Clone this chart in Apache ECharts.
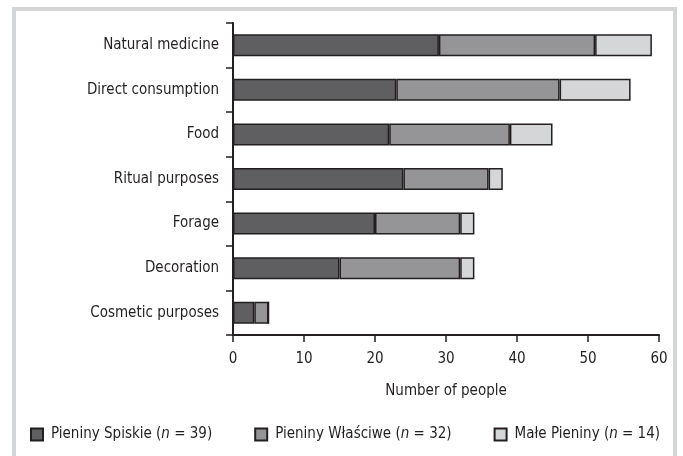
<!DOCTYPE html>
<html>
<head>
<meta charset="utf-8">
<script src="https://cdn.jsdelivr.net/npm/echarts@6/dist/echarts.min.js"></script>
<style>
  html, body { margin: 0; padding: 0; background: #fff; }
  #container { width: 683px; height: 456px; }
  #frame {
    position: absolute; left: 12px; top: 7px; width: 657px; height: 460px;
    border: 4px solid #d4d5d6; border-bottom: none; pointer-events: none;
  }
</style>
</head>
<body>
<div id="container"></div>
<div id="frame"></div>
<script>
// categories, top to bottom
const uses = ['Natural medicine', 'Direct consumption', 'Food', 'Ritual purposes', 'Forage', 'Decoration', 'Cosmetic purposes']
// number of people per region
const spiskie = [29, 23, 22, 24, 20, 15, 3]
const wlasciwe = [22, 23, 17, 12, 12, 17, 2]
const malePieniny = [8, 10, 6, 2, 2, 2, 0]
const seriesNames = ['Pieniny Spiskie', 'Pieniny Właściwe', 'Małe Pieniny']
const seriesN = [39, 32, 14]
const xTicks = [0, 10, 20, 30, 40, 50, 60]

const font = '"DejaVu Sans Condensed", "DejaVu Sans", sans-serif'
const fs = 15
const ink = '#231f20'
const fills = ['#5f5f61', '#959597', '#d5d6d8']

let instance = echarts.init(document.getElementById('container'))

function bar(name, data, i) {
  return {
    name: name,
    type: 'bar',
    stack: 'total',
    barWidth: 22,
    data: data,
    itemStyle: { color: fills[i], borderColor: ink, borderWidth: 1.5 }
  }
}

instance.setOption({
  animation: false,
  textStyle: { fontFamily: font, color: ink },
  grid: { left: 233, right: 24, top: 23, bottom: 121 },
  legend: {
    left: 30,
    top: 427,
    padding: 0,
    icon: 'rect',
    itemWidth: 12,
    itemHeight: 12,
    itemGap: 42,
    data: seriesNames,
    formatter: name => {
      let k = seriesNames.indexOf(name)
      return name + ' ({i|n} = ' + seriesN[k] + ')'
    },
    textStyle: {
      fontFamily: font, fontSize: fs, color: ink, padding: [0, 0, 0, 3],
      rich: { i: { fontFamily: font, fontSize: fs, color: ink, fontStyle: 'italic' } }
    }
  },
  xAxis: {
    type: 'value',
    min: xTicks[0],
    max: xTicks[xTicks.length - 1],
    interval: 10,
    name: 'Number of people',
    nameLocation: 'middle',
    nameGap: 49,
    nameTextStyle: { fontFamily: font, fontSize: fs, color: ink },
    axisLine: { show: true, lineStyle: { color: ink, width: 2 } },
    axisTick: { show: true, length: 7, lineStyle: { color: ink, width: 1.5 } },
    axisLabel: { fontFamily: font, fontSize: fs, color: ink, margin: 17 },
    splitLine: { show: false }
  },
  yAxis: {
    type: 'category',
    inverse: true,
    data: uses,
    axisLine: { show: true, lineStyle: { color: ink, width: 2 } },
    axisTick: { show: true, length: 7, lineStyle: { color: ink, width: 1.5 } },
    axisLabel: { fontFamily: font, fontSize: fs, color: ink, margin: 14 }
  },
  series: [
    bar(seriesNames[0], spiskie, 0),
    bar(seriesNames[1], wlasciwe, 1),
    bar(seriesNames[2], malePieniny, 2)
  ]
})
</script>
</body>
</html>
